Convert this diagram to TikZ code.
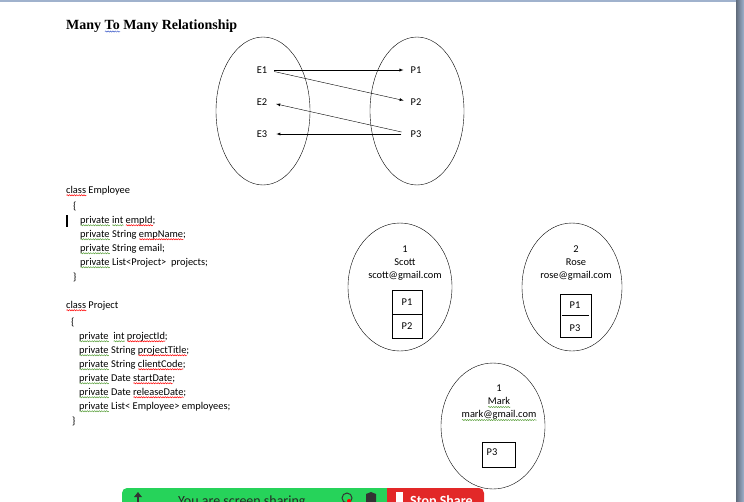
\documentclass[tikz,border=0pt]{standalone}
\usepackage{fontspec}
\setmainfont{Carlito}
\newfontfamily\titlefont{Liberation Serif}
\usetikzlibrary{shapes.geometric,decorations.pathmorphing}
\definecolor{greenbar}{RGB}{38,211,90}
\definecolor{redbar}{RGB}{226,40,40}
\definecolor{frame}{RGB}{160,178,205}
\definecolor{wavegreen}{RGB}{90,160,60}
\definecolor{waveblue}{RGB}{60,90,200}
\newlength\wvlen
\newcommand\wv[2]{\settowidth\wvlen{#2}\rlap{\tikz[baseline=0pt]\draw[#1,line width=.5pt,decorate,decoration={snake,amplitude=.6pt,segment length=2.4pt}] (0pt,-2.2pt)--(\wvlen,-2.2pt);}#2}
\newcommand\redwave[1]{\wv{red}{#1}}
\newcommand\greenwave[1]{\wv{wavegreen}{#1}}
\newcommand\bluewave[1]{\wv{waveblue}{#1}}
\tikzset{
  lbl/.style={inner sep=0pt},
  set/.style={draw,ellipse,inner sep=0pt,minimum width=94pt,minimum height=148pt},
  rec/.style={draw,ellipse,inner sep=0pt,minimum width=104pt,minimum height=128pt},
  cell/.style={draw,inner sep=0pt,minimum width=30pt,minimum height=24pt},
}
\begin{document}
\begin{tikzpicture}[x=1pt,y=-1pt,font=\fontsize{10.4}{13}\selectfont]
\useasboundingbox (0,0) rectangle (744,501);
\clip (0,0) rectangle (744,501);
% window frame
\fill[frame] (0,0) rectangle (736,2);
\shade[left color=frame!60!black,right color=frame] (736,0) rectangle (744,501);
%
\node[anchor=west,inner sep=0pt] (title) at (66,26) {\fontsize{14}{16}\selectfont\titlefont\bfseries Many \bluewave{To} Many Relationship};
%
\node[set] (emp) at (263,111) {};
\node[set] (proj) at (417,111) {};
\node[lbl] (E1) at (262,70) {E1};
\node[lbl] (E2) at (262,102) {E2};
\node[lbl] (E3) at (262,134) {E3};
\node[lbl] (P1) at (416,70) {P1};
\node[lbl] (P2) at (416,102) {P2};
\node[lbl] (P3) at (416,134) {P3};
\draw[-latex,shorten <=7pt,shorten >=7pt](E1.east)--(P1.west);
\draw[-latex,shorten <=7pt,shorten >=7pt](E1.east)--(P2.west);
\draw[-latex,shorten <=9pt,shorten >=9pt](P3.west)--(E2.east);
\draw[-latex,shorten <=9pt,shorten >=9pt](P3.west)--(E3.east);
%
\foreach \x/\y/\t [count=\i] in {
  66/191/{\redwave{class} Employee},
  73/206/{\{},
  80/221/{\greenwave{private} \greenwave{int} \redwave{empId};},
  80/235/{\greenwave{private} String \redwave{empName};},
  80/249/{\greenwave{private} String email;},
  80/263/{\greenwave{private} List<Project>\ \ projects;},
  73/277/{\}},
  66/306/{\redwave{class} Project},
  71/322/{\{},
  79/337/{\greenwave{private}\ \ \greenwave{int} \redwave{projectId};},
  79/351/{\greenwave{private} String \redwave{projectTitle};},
  79/365/{\greenwave{private} String \redwave{clientCode};},
  79/379/{\greenwave{private} Date \redwave{startDate};},
  79/393/{\greenwave{private} Date \redwave{releaseDate};},
  79/407/{\greenwave{private} List< Employee> employees;},
  72/421/{\}}}
  \node[anchor=west,inner sep=0pt] (code\i) at (\x,\y) {\t};
\fill (66,215) rectangle (68,227);
%
\node[rec] (scott) at (400,287) {};
\node[align=center,inner sep=0pt] (scottTxt) at (405,263) {1\\Scott\\scott@gmail.com};
\node[cell] (s1) at (407,302) {P1};
\node[cell] (s2) at (407,326) {P2};
%
\node[rec,minimum width=100pt] (rose) at (572,287) {};
\node[align=center,inner sep=0pt] (roseTxt) at (576,263) {2\\Rose\\rose@gmail.com};
\node[draw,inner sep=0pt,minimum width=31pt,minimum height=43pt] (rbox) at (575.5,315.5) {};
\node[lbl] (r1) at (575,305) {P1};
\node[lbl] (r2) at (575,328) {P3};
\draw ([xshift=2pt]rbox.west)--([xshift=-2pt]rbox.east);
%
\node[rec,minimum height=126pt] (mark) at (493,426) {};
\node[align=center,inner sep=0pt] (markTxt) at (499,403) {1\\\greenwave{Mark}\\\greenwave{mark@gmail.com}};
\node[draw,inner sep=0pt,minimum width=33pt,minimum height=25pt] (mbox) at (499,455) {};
\node[lbl] (m1) at (492,452) {P3};
%
% screen sharing bar
\fill[greenbar,rounded corners=5pt] (122,488) rectangle (400,515);
\fill[redbar,rounded corners=5pt] (387,488) rectangle (484,515);
\fill[redbar] (387,488) rectangle (400,515);
\fill[black!80] (138,492) -- (142,497) -- (134,497) -- cycle;
\fill[black!80] (137,497) rectangle (139,502);
\node[anchor=base west,inner sep=0pt,text=black!85] (share) at (178,505) {\fontsize{14}{16}\selectfont You are screen sharing};
\draw[black!80,line width=1pt] (347,498) circle (5pt);
\fill[red] (349,501) circle (2pt);
\fill[black!80] (366,494) -- (371,492) -- (376,494) -- (376,502) -- (366,502) -- cycle;
\fill[white] (396,492) rectangle (403,502);
\node[anchor=base west,inner sep=0pt,text=white] (stop) at (410,505) {\fontsize{14}{16}\selectfont\bfseries Stop Share};
\end{tikzpicture}
\end{document}
